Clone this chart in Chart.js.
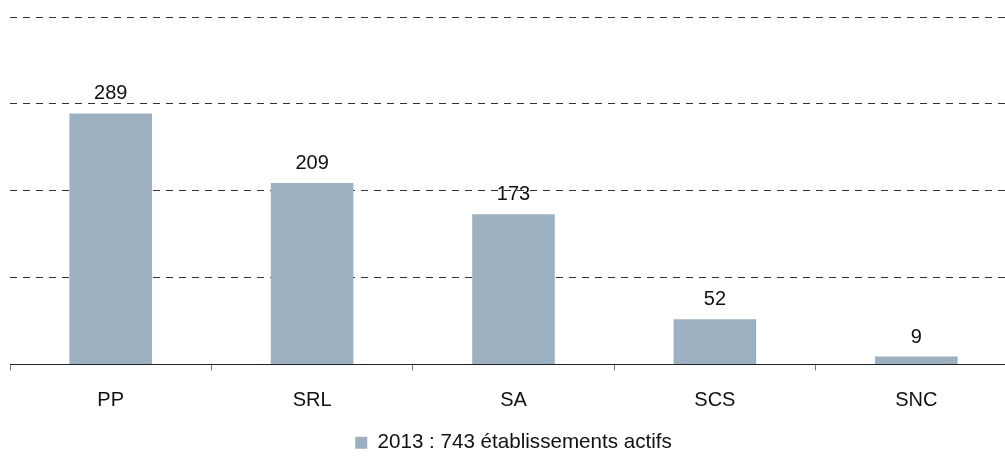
<!DOCTYPE html>
<html>
<head>
<meta charset="utf-8">
<script src="https://cdn.jsdelivr.net/npm/chart.js@4.4.0/dist/chart.umd.min.js"></script>
<style>
  html, body { margin: 0; padding: 0; background: #fff; overflow: hidden; }
  #wrap { width: 1017px; height: 463px; position: relative; }
</style>
</head>
<body>
<div id="wrap"><canvas id="c"></canvas></div>
<script>
const categories = ["PP", "SRL", "SA", "SCS", "SNC"];
const values2013 = [289, 209, 173, 52, 9];
const seriesLabel = "2013 : 743 établissements actifs";
const yTicks = [0, 100, 200, 300, 400];

const FONT = '"Liberation Sans", Arial, Helvetica, sans-serif';
const FONT_SIZE = 20;
const LEGEND_FONT_SIZE = 20.6;
const BAR_COLOR = '#9cb0c2';

const valueLabels = {
  id: 'valueLabels',
  afterDatasetsDraw(chart) {
    const ctx = chart.ctx;
    ctx.save();
    ctx.font = FONT_SIZE + 'px ' + FONT;
    ctx.fillStyle = '#111';
    ctx.textAlign = 'center';
    ctx.textBaseline = 'alphabetic';
    chart.getDatasetMeta(0).data.forEach((bar, i) => {
      ctx.fillText(String(values2013[i]), bar.x, bar.y - 14);
    });
    ctx.restore();
  }
};

new Chart(document.getElementById('c'), {
  type: 'bar',
  data: {
    labels: categories,
    datasets: [{
      label: seriesLabel,
      data: values2013,
      backgroundColor: BAR_COLOR,
      borderWidth: 0,
      barPercentage: 0.41,
      categoryPercentage: 1.0
    }]
  },
  options: {
    responsive: true,
    maintainAspectRatio: false,
    animation: false,
    layout: { padding: { left: 10, right: 0, top: 17, bottom: 0 } },
    plugins: {
      tooltip: { enabled: false },
      legend: {
        position: 'bottom',
        labels: {
          font: { family: FONT, size: LEGEND_FONT_SIZE },
          color: '#111',
          boxWidth: 12,
          boxHeight: 12,
          padding: 2
        }
      }
    },
    scales: {
      x: {
        grid: {
          offset: true,
          drawOnChartArea: false,
          drawTicks: true,
          tickLength: 6,
          color: '#777'
        },
        border: { display: true, color: '#222', width: 1 },
        ticks: {
          font: { family: FONT, size: FONT_SIZE },
          color: '#111',
          padding: 18
        }
      },
      y: {
        min: 0,
        max: 400,
        afterBuildTicks(scale) { scale.ticks = yTicks.map(v => ({ value: v })); },
        ticks: { display: false },
        border: { display: false, dash: [7, 6] },
        grid: {
          drawTicks: false,
          color: (ctx) => ctx.tick && ctx.tick.value === 0 ? 'rgba(0,0,0,0)' : '#333',
          lineWidth: 1
        }
      }
    }
  },
  plugins: [valueLabels]
});
</script>
</body>
</html>
